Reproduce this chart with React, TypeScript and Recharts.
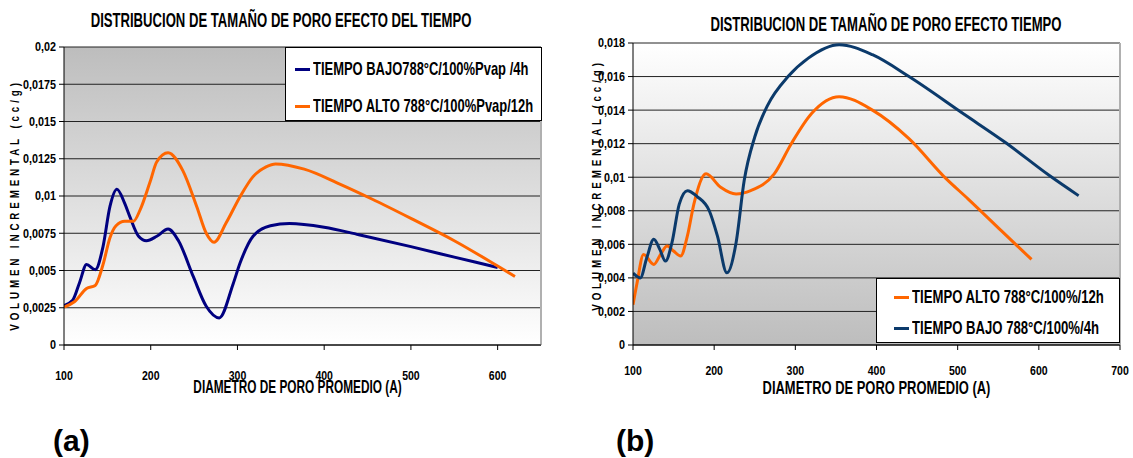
import React from 'react';
import { LineChart, Line, XAxis, YAxis, CartesianGrid, Legend, Label, ReferenceLine } from 'recharts';

// ---------- Data ----------
const nameBajoA = 'TIEMPO BAJO788°C/100%Pvap /4h';
const nameAltoA = 'TIEMPO ALTO 788°C/100%Pvap/12h';
const nameAltoB = 'TIEMPO ALTO 788°C/100%/12h';
const nameBajoB = 'TIEMPO BAJO 788°C/100%/4h';
const legendOrderA = [nameBajoA, nameAltoA];
const legendOrderB = [nameAltoB, nameBajoB];

const titleA = 'DISTRIBUCION DE TAMAÑO DE PORO EFECTO DEL TIEMPO';
const titleB = 'DISTRIBUCION DE TAMAÑO DE PORO EFECTO TIEMPO';
const xTitle = 'DIAMETRO DE PORO PROMEDIO (A)';
const yTitle = 'VOLUMEN INCREMENTAL (cc/g)';

const xTicksA = [100, 200, 300, 400, 500, 600];
const yTicksA = [0, 0.0025, 0.005, 0.0075, 0.01, 0.0125, 0.015, 0.0175, 0.02];
const xTicksB = [100, 200, 300, 400, 500, 600, 700];
const yTicksB = [0, 0.002, 0.004, 0.006, 0.008, 0.01, 0.012, 0.014, 0.016, 0.018];

// (a) TIEMPO BAJO : [diametro, volumen]
const bajoA: [number, number][] = [
  [100, 0.00265], [110, 0.003], [118, 0.0042], [126, 0.0054], [136, 0.00505],
  [145, 0.0066], [153, 0.0093], [161, 0.01045], [170, 0.0095], [176, 0.0086],
  [186, 0.0073], [195, 0.007], [207, 0.0073], [220, 0.00778], [232, 0.007],
  [249, 0.0046], [264, 0.0026], [279, 0.00182], [295, 0.0041], [303, 0.0055],
  [318, 0.0073], [338, 0.008], [360, 0.00815], [400, 0.0079], [440, 0.0074],
  [500, 0.0066], [550, 0.0059], [600, 0.0052],
];
// (a) TIEMPO ALTO
const altoA: [number, number][] = [
  [100, 0.00255], [112, 0.0029], [126, 0.0038], [136, 0.004], [145, 0.0054],
  [153, 0.0072], [160, 0.008], [170, 0.0083], [180, 0.0083], [188, 0.0091],
  [199, 0.0109], [207, 0.0123], [220, 0.0129], [237, 0.0117], [253, 0.0093],
  [264, 0.0075], [273, 0.0069], [287, 0.0082], [303, 0.00995], [318, 0.0113],
  [333, 0.01195], [344, 0.01215], [377, 0.0118], [418, 0.0108], [455, 0.0098],
  [500, 0.0085], [550, 0.007], [600, 0.0053], [620, 0.0046],
];
// (b) TIEMPO ALTO
const altoB: [number, number][] = [
  [100, 0.0024], [105, 0.0037], [113, 0.0054], [125.6, 0.0048], [134, 0.0054],
  [142, 0.0059], [150, 0.0056], [158.7, 0.0053], [167, 0.0065], [175, 0.0084],
  [190, 0.0102], [208, 0.0094], [227, 0.009], [245, 0.0092], [274, 0.0102],
  [295, 0.012], [320, 0.0138], [354, 0.0148], [395, 0.014], [440, 0.0123],
  [486, 0.0099], [513, 0.0087], [554, 0.0068], [591, 0.0051],
];
// (b) TIEMPO BAJO
const bajoB: [number, number][] = [
  [100, 0.00428], [109, 0.004], [117, 0.0052], [125.6, 0.0063], [133, 0.0057],
  [140, 0.005], [148, 0.0061], [157, 0.0084], [167, 0.0092], [179, 0.00885],
  [194, 0.008], [204, 0.0065], [215.7, 0.0043], [227, 0.0061], [237, 0.0098],
  [250, 0.0124], [266, 0.0143], [291, 0.016], [316, 0.0171], [354, 0.0179],
  [395, 0.0173], [440, 0.016], [508, 0.01375], [558, 0.0121], [613, 0.0101],
  [649, 0.0089],
];

// ---------- Styles ----------
const FONT = "'Liberation Sans', Arial, sans-serif";
const ORANGE = '#FF6600';
const NAVY_A = '#000080';
const NAVY_B = '#0B3A6B';

const toPts = (arr: [number, number][]) => arr.map(([x, y]) => ({ x, y }));
const fmt = (v: number) => String(v).replace('.', ',');

type NTextProps = {
  x: number;
  y: number;
  size: number;
  sx: number;
  anchor?: 'start' | 'middle' | 'end';
  rotate?: number;
  spacing?: number;
  children: React.ReactNode;
};
const NText = ({ x, y, size, sx, anchor = 'middle', rotate = 0, spacing = 0, children }: NTextProps) => (
  <text
    transform={`translate(${x},${y}) rotate(${rotate}) scale(${sx},1)`}
    x={0}
    y={0}
    textAnchor={anchor}
    dominantBaseline="central"
    fontFamily={FONT}
    fontWeight={700}
    fontSize={size}
    letterSpacing={spacing}
    fill="#000"
  >
    {children}
  </text>
);

const xTick = (dy: number) => (props: any) => (
  <NText x={props.x} y={props.y + dy} size={13.5} sx={0.78}>
    {String(props.payload.value)}
  </NText>
);
const yTick = (props: any) => (
  <NText x={props.x} y={props.y} size={13.5} sx={0.8} anchor="end">
    {fmt(props.payload.value)}
  </NText>
);

const makeLegend = (order: string[], rowTop: number, rowGap: number, lineLeft: number, sx: number) => (props: any) => {
  const payload = [...(props.payload || [])].sort(
    (a: any, b: any) => order.indexOf(a.value) - order.indexOf(b.value)
  );
  return (
    <div
      style={{
        position: 'relative',
        width: '100%',
        height: '100%',
        boxSizing: 'border-box',
        border: '1px solid #000',
        background: '#fff',
        fontFamily: FONT,
        fontWeight: 700,
        fontSize: 18.5,
        color: '#000',
      }}
    >
      {payload.map((p: any, i: number) => (
        <div
          key={i}
          style={{
            position: 'absolute',
            left: lineLeft,
            top: rowTop + i * rowGap - 11,
            height: 22,
            display: 'flex',
            alignItems: 'center',
            whiteSpace: 'nowrap',
          }}
        >
          <span style={{ display: 'inline-block', width: 15, height: 3, background: p.color, marginRight: 3 }} />
          <span style={{ display: 'inline-block', transform: `scaleX(${sx})`, transformOrigin: 'left center' }}>{p.value}</span>
        </div>
      ))}
    </div>
  );
};

const YTitle = (dx: number, dy: number) => (props: any) => {
  const vb = props.viewBox || { x: 0, y: 0, width: 0, height: 0 };
  return (
    <NText x={vb.x + dx} y={vb.y + vb.height / 2 + dy} size={13} sx={0.75} rotate={-90} spacing={5.2}>
      {yTitle}
    </NText>
  );
};

const XTitle = (dx: number, cyAbs: number, sx: number) => (props: any) => {
  const vb = props.viewBox || { x: 0, y: 0, width: 0, height: 0 };
  return (
    <NText x={vb.x + vb.width / 2 + dx} y={cyAbs} size={18.5} sx={sx}>
      {xTitle}
    </NText>
  );
};

const titleStyle: React.CSSProperties = {
  position: 'absolute',
  fontFamily: FONT,
  fontWeight: 700,
  fontSize: 20,
  lineHeight: '22px',
  whiteSpace: 'nowrap',
  transform: 'translate(-50%, -50%) scaleX(0.655)',
  color: '#000',
};

const panelStyle: React.CSSProperties = {
  position: 'absolute',
  fontFamily: FONT,
  fontWeight: 700,
  fontSize: 30,
  lineHeight: '34px',
  color: '#000',
  transform: 'translateY(-50%)',
};

export default function App() {
  return (
    <div style={{ position: 'absolute', left: 0, top: 0, width: 1133, height: 458, background: '#fff', overflow: 'hidden' }}>
      {/* Chart (a) */}
      <div style={{ position: 'absolute', left: 0, top: 0 }}>
        <LineChart width={560} height={458} margin={{ top: 47, right: 19, bottom: 83, left: 4 }}>
          <defs>
            <linearGradient id="bgA" x1="0" y1="0" x2="0" y2="1">
              <stop offset="0%" stopColor="#BDBDBD" />
              <stop offset="100%" stopColor="#FFFFFF" />
            </linearGradient>
          </defs>
          <CartesianGrid vertical={false} fill="url(#bgA)" stroke="#222" strokeWidth={1} />
          <XAxis
            type="number"
            dataKey="x"
            domain={[100, 650]}
            ticks={xTicksA}
            height={30}
            tick={xTick(26)}
            tickSize={5}
            tickMargin={0}
            axisLine={{ stroke: '#000' }}
            tickLine={{ stroke: '#000' }}
            allowDataOverflow
          >
            <Label content={XTitle(-5, 386, 0.64)} />
          </XAxis>
          <YAxis
            type="number"
            dataKey="y"
            domain={[0, 0.02]}
            ticks={yTicksA}
            width={60}
            tick={yTick}
            tickSize={5}
            tickMargin={3}
            axisLine={{ stroke: '#000' }}
            tickLine={{ stroke: '#000' }}
            allowDataOverflow
          >
            <Label content={YTitle(10, 9)} />
          </YAxis>
          <ReferenceLine x={650} stroke="#B0B0B0" strokeWidth={2} />
          <Legend
            layout="vertical"
            align="center"
            verticalAlign="middle"
            wrapperStyle={{ left: 285, top: 47, width: 257, height: 74 }}
            content={makeLegend(legendOrderA, 21, 37, 9, 0.7)}
          />
          <Line
            data={toPts(bajoA)}
            dataKey="y"
            name={nameBajoA}
            type="monotone"
            stroke={NAVY_A}
            strokeWidth={3}
            dot={false}
            isAnimationActive={false}
          />
          <Line
            data={toPts(altoA)}
            dataKey="y"
            name={nameAltoA}
            type="monotone"
            stroke={ORANGE}
            strokeWidth={3}
            dot={false}
            isAnimationActive={false}
          />
        </LineChart>
      </div>

      {/* Chart (b) */}
      <div style={{ position: 'absolute', left: 560, top: 0 }}>
        <LineChart width={573} height={458} margin={{ top: 43, right: 13, bottom: 83, left: 9 }}>
          <defs>
            <linearGradient id="bgB" x1="0" y1="0" x2="0" y2="1">
              <stop offset="0%" stopColor="#FFFFFF" />
              <stop offset="100%" stopColor="#BDBDBD" />
            </linearGradient>
          </defs>
          <CartesianGrid vertical={false} fill="url(#bgB)" stroke="#222" strokeWidth={1} />
          <XAxis
            type="number"
            dataKey="x"
            domain={[100, 700]}
            ticks={xTicksB}
            height={30}
            tick={xTick(21)}
            tickSize={5}
            tickMargin={0}
            axisLine={{ stroke: '#000' }}
            tickLine={{ stroke: '#000' }}
            allowDataOverflow
          >
            <Label content={XTitle(0, 388, 0.7)} />
          </XAxis>
          <YAxis
            type="number"
            dataKey="y"
            domain={[0, 0.018]}
            ticks={yTicksB}
            width={64}
            tick={yTick}
            tickSize={5}
            tickMargin={3}
            axisLine={{ stroke: '#000' }}
            tickLine={{ stroke: '#000' }}
            allowDataOverflow
          >
            <Label content={YTitle(27, -9)} />
          </YAxis>
          <ReferenceLine x={700} stroke="#B0B0B0" strokeWidth={2} />
          <Legend
            layout="vertical"
            align="center"
            verticalAlign="middle"
            wrapperStyle={{ left: 316, top: 278, width: 244, height: 65 }}
            content={makeLegend(legendOrderB, 18, 31, 17, 0.71)}
          />
          <Line
            data={toPts(altoB)}
            dataKey="y"
            name={nameAltoB}
            type="monotone"
            stroke={ORANGE}
            strokeWidth={3}
            dot={false}
            isAnimationActive={false}
          />
          <Line
            data={toPts(bajoB)}
            dataKey="y"
            name={nameBajoB}
            type="monotone"
            stroke={NAVY_B}
            strokeWidth={3}
            dot={false}
            isAnimationActive={false}
          />
        </LineChart>
      </div>

      {/* Titles */}
      <div style={{ ...titleStyle, left: 281, top: 20 }}>{titleA}</div>
      <div style={{ ...titleStyle, left: 886, top: 24 }}>{titleB}</div>

      {/* Panel labels */}
      <div style={{ ...panelStyle, left: 53, top: 441 }}>(a)</div>
      <div style={{ ...panelStyle, left: 616, top: 441 }}>(b)</div>
    </div>
  );
}
